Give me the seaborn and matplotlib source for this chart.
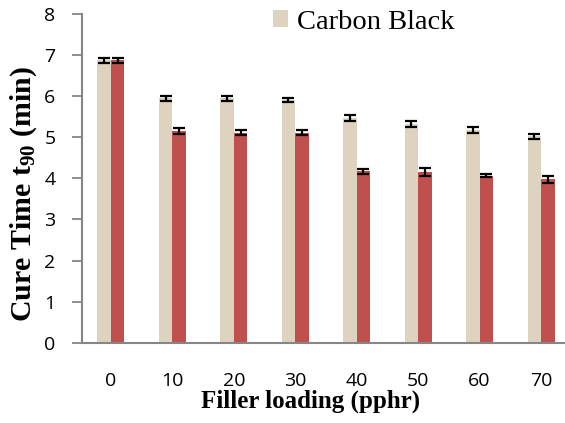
import matplotlib
matplotlib.use("Agg")
import matplotlib.pyplot as plt
import matplotlib.patches as mpatches
import numpy as np
import pandas as pd
import seaborn as sns

loadings = ["0", "10", "20", "30", "40", "50", "60", "70"]
series_names = ["Carbon Black", "Other Filler"]
carbon_black = [6.87, 5.94, 5.94, 5.90, 5.46, 5.32, 5.17, 5.02]
carbon_black_err = [0.06, 0.06, 0.06, 0.06, 0.08, 0.08, 0.08, 0.06]
other_filler = [6.87, 5.15, 5.10, 5.10, 4.17, 4.15, 4.06, 3.97]
other_filler_err = [0.06, 0.07, 0.06, 0.06, 0.06, 0.10, 0.04, 0.08]
yticks = [0, 1, 2, 3, 4, 5, 6, 7, 8]

cb_color = "#DDD3BF"
red_color = "#C0504D"
gray = "#868686"

sns.set_style("white")
plt.rcParams["font.family"] = ["Open Sans", "DejaVu Sans"]
plt.rcParams["text.color"] = "black"
plt.rcParams["mathtext.fontset"] = "custom"
plt.rcParams["mathtext.bf"] = "Liberation Serif:bold"
plt.rcParams["mathtext.rm"] = "Liberation Serif:bold"
plt.rcParams["mathtext.it"] = "Liberation Serif:bold"

df = pd.DataFrame({
    "loading": loadings * 2,
    "value": carbon_black + other_filler,
    "filler": [series_names[0]] * len(loadings) + [series_names[1]] * len(loadings),
})

fig = plt.figure(figsize=(5.65, 4.23), dpi=100)
ax = fig.add_axes([82 / 565, 1 - 343 / 423, (565 - 82) / 565, (343 - 13.5) / 423])

sns.barplot(data=df, x="loading", y="value", hue="filler", order=loadings,
            hue_order=series_names, palette=[cb_color, red_color], saturation=1,
            width=0.44, errorbar=None, linewidth=0, ax=ax, legend=False)

# error bars at bar centres, one container per series
for cont, vals, errs in zip(ax.containers, [carbon_black, other_filler],
                            [carbon_black_err, other_filler_err]):
    xs = [p.get_x() + p.get_width() / 2 for p in cont.patches]
    ax.errorbar(xs, vals, yerr=errs, fmt="none", ecolor="black", elinewidth=1.6,
                capsize=4.3, capthick=1.6, zorder=5)

ax.set_xlim(-0.47, 7.39)
ax.set_ylim(0, 8)
ax.set_yticks(yticks)
ax.set_yticklabels([str(t) for t in yticks])

for s in ["top", "right"]:
    ax.spines[s].set_visible(False)
for s in ["left", "bottom"]:
    ax.spines[s].set_color(gray)
    ax.spines[s].set_linewidth(1.5)

ax.tick_params(axis="y", which="major", left=True, length=7, width=1.3, color=gray,
               pad=12, labelsize=14, labelcolor="black")
ax.tick_params(axis="x", which="major", bottom=False, length=0, pad=21,
               labelsize=14, labelcolor="black")

ax.set_xlabel("Filler loading (pphr)", family="Liberation Serif", fontweight="bold",
              fontsize=18, color="black")
ax.set_ylabel(r"Cure Time t$_{\mathbf{90}}$ (min)", family="Liberation Serif",
              fontweight="bold", fontsize=21.5, color="black")
ax.xaxis.set_label_coords((311 - 82) / 483, (343 - 390) / 329.5)
ax.yaxis.set_label_coords((39 - 82) / 483, (343 - 194) / 329.5)

handle = mpatches.Patch(facecolor=cb_color, edgecolor="none", label=series_names[0])
leg = fig.legend(handles=[handle], loc="upper left",
                 bbox_to_anchor=(267 / 565, 1 - 4 / 423), frameon=False,
                 prop={"family": "Liberation Serif", "size": 20.5},
                 labelcolor="black",
                 handlelength=0.55, handleheight=0.55, handletextpad=0.3,
                 borderpad=0.2, borderaxespad=0)

fig.savefig("out.png", dpi=100)
